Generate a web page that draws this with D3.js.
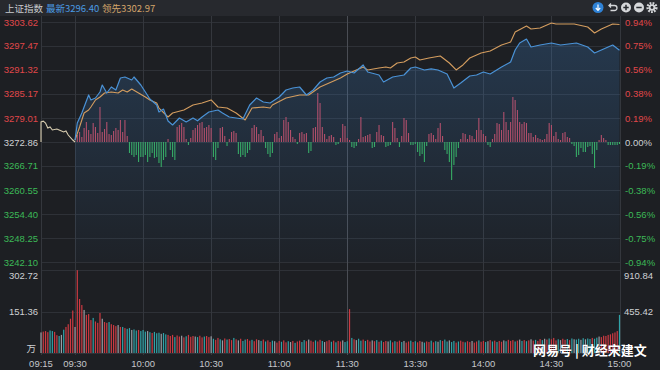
<!DOCTYPE html>
<html>
<head>
<meta charset="utf-8">
<script src="https://cdn.jsdelivr.net/npm/d3@7"></script>
<style>
body { margin: 0; background: #1d1f23; }
svg { display: block; font-family: "Liberation Sans", Arial, sans-serif; }
</style>
</head>
<body>
<svg id="chart" width="660" height="370"></svg>
<script>
// ---- data ----
const prevClose = 3272.86
const priceTicks = [3303.62, 3297.47, 3291.32, 3285.17, 3279.01, 3272.86, 3266.71, 3260.55, 3254.40, 3248.25, 3242.10]
const pctTicks = ['0.94%', '0.75%', '0.56%', '0.38%', '0.19%', '0.00%', '-0.19%', '-0.38%', '-0.56%', '-0.75%', '-0.94%']
const timeTicks = ['09:15', '09:30', '10:00', '10:30', '11:00', '11:30', '13:30', '14:00', '14:30', '15:00']
const volTicksLeft = ['302.72', '151.36']
const volTicksRight = ['910.84', '455.42']
const volMax = 302.72

// 集合竞价 09:15-09:30
const auctionSeries = [['09:15', 3272.86], ['09:15', 3277.99], ['09:16', 3278.2], ['09:17', 3277.73], ['09:18', 3276.45],
  ['09:19', 3276.7], ['09:20', 3275.94], ['09:22', 3276.2], ['09:23', 3275.94], ['09:25', 3275.42], ['09:26', 3275.7],
  ['09:27', 3274.65], ['09:29', 3273.37], ['09:30', 3272.86]]

// 最新 (blue)
const latestSeries = [['09:30', 3273.37], ['09:31', 3277.73], ['09:33', 3280.29], ['09:34', 3281.83], ['09:36', 3284.91],
  ['09:37', 3283.63], ['09:39', 3284.14], ['09:41', 3285.68], ['09:42', 3287.47], ['09:44', 3285.42], ['09:46', 3286.96],
  ['09:48', 3286.19], ['09:50', 3289.26], ['09:52', 3289.52], ['09:55', 3288.75], ['09:56', 3289.52], ['09:59', 3287.47],
  ['10:01', 3285.68], ['10:03', 3283.88], ['10:06', 3282.34], ['10:07', 3280.55], ['10:09', 3281.3], ['10:11', 3278.24],
  ['10:13', 3277.22], ['10:16', 3279.01], ['10:19', 3277.99], ['10:22', 3279.01], ['10:24', 3278.3], ['10:26', 3279.27],
  ['10:29', 3280.55], ['10:33', 3281.06], ['10:35', 3280.29], ['10:38', 3279.27], ['10:41', 3279.01], ['10:44', 3278.76],
  ['10:47', 3282.34], ['10:50', 3284.14], ['10:53', 3283.11], ['10:56', 3282.86], ['11:00', 3284.39], ['11:03', 3286.19],
  ['11:06', 3286.70], ['11:09', 3286.96], ['11:12', 3284.91], ['11:15', 3286.19], ['11:18', 3288.24], ['11:21', 3289.26],
  ['11:24', 3289.52], ['11:27', 3290.55], ['11:30', 3291.06], ['13:03', 3290.55], ['13:07', 3292.60], ['13:09', 3290.80],
  ['13:14', 3290.03], ['13:16', 3288.24], ['13:20', 3289.52], ['13:25', 3290.03], ['13:28', 3291.83], ['13:30', 3292.08],
  ['13:34', 3291.32], ['13:37', 3291.6], ['13:40', 3291.32], ['13:44', 3290.29], ['13:47', 3286.70], ['13:50', 3287.98],
  ['13:54', 3289.78], ['13:57', 3290.03], ['14:00', 3290.80], ['14:03', 3290.29], ['14:08', 3292.08], ['14:12', 3293.36],
  ['14:14', 3296.44], ['14:16', 3298.23], ['14:19', 3299.26], ['14:21', 3297.21], ['14:25', 3297.72], ['14:30', 3298.23],
  ['14:34', 3297.72], ['14:41', 3298.23], ['14:46', 3297.21], ['14:49', 3295.67], ['14:52', 3296.44], ['14:57', 3297.72],
  ['15:00', 3296.40]]

// 领先 (orange)
const leadSeries = [['09:30', 3273.37], ['09:32', 3276.70], ['09:34', 3280.29], ['09:36', 3281.06], ['09:37', 3281.83],
  ['09:39', 3283.63], ['09:41', 3284.39], ['09:43', 3285.42], ['09:46', 3285.68], ['09:49', 3285.42], ['09:51', 3286.19],
  ['09:53', 3285.68], ['09:55', 3286.45], ['09:58', 3285.42], ['10:01', 3284.39], ['10:03', 3283.63], ['10:06', 3282.86],
  ['10:07', 3281.57], ['10:11', 3279.27], ['10:13', 3280.29], ['10:18', 3281.06], ['10:22', 3282.34], ['10:26', 3282.86],
  ['10:30', 3283.63], ['10:33', 3281.83], ['10:37', 3281.57], ['10:41', 3280.29], ['10:45', 3278.50], ['10:48', 3281.57],
  ['10:53', 3281.83], ['10:56', 3281.57], ['10:57', 3282.34], ['11:03', 3284.14], ['11:09', 3284.91], ['11:13', 3284.91],
  ['11:18', 3286.96], ['11:22', 3287.98], ['11:27', 3289.26], ['11:30', 3290.29], ['13:02', 3290.80], ['13:07', 3292.08],
  ['13:09', 3291.32], ['13:14', 3291.83], ['13:17', 3292.08], ['13:19', 3291.83], ['13:22', 3293.11], ['13:25', 3293.36],
  ['13:28', 3294.39], ['13:30', 3294.65], ['13:32', 3293.88], ['13:36', 3294.39], ['13:41', 3294.90], ['13:45', 3293.11],
  ['13:48', 3291.32], ['13:51', 3292.60], ['13:54', 3294.39], ['13:59', 3295.67], ['14:03', 3296.18], ['14:08', 3297.72],
  ['14:12', 3298.49], ['14:14', 3301.05], ['14:19', 3302.59], ['14:21', 3301.82], ['14:25', 3302.08], ['14:30', 3303.36],
  ['14:32', 3303.11], ['14:40', 3303.11], ['14:46', 3302.33], ['14:49', 3300.80], ['14:52', 3301.82], ['14:57', 3303.11],
  ['15:00', 3302.97]]

// red/green strength bars, one per minute 09:31 .. 15:00
const strength = [
  7, 10, 5, 14, 20, 12, 8, 19, 15, 9,
  35, 10, 13, 20, 8, 7, 11, 14, 12, 22,
  10, 22, 6, -11, -13, -15, -13, -20, -15, -15,
  -13, -20, -15, -11, -16, -15, -21, -25, -18, -15,
  3, -8, -15, -18, 15, 17, 19, 15, 3, -3,
  4, 12, 14, 17, 19, 20, 14, 15, 17, 14,
  -15, -18, -6, 14, 15, 6, -4, 3, 10, 11,
  9, -12, -15, -13, -15, -11, -8, 14, 17, 15,
  8, 12, 6, -6, -12, -15, -11, 8, 10, 4,
  6, 22, 25, 20, 12, 5, 3, -2, 9, 10,
  8, 9, -11, -9, 14, 15, 49, 39, 15, 8,
  3, 6, 7, 5, -3, -2, 4, 18, 16, 4,
  2, -5, -6, -4, 3, 25, 5, 6, 7, 8,
  -6, -5, 10, 17, 7, 6, -5, -4, -3, 20,
  14, 4, -5, 6, 24, 22, 9, -3, -3, -2,
  -10, -14, -12, -20, -4, 8, 9, 7, 3, 14,
  19, 6, -8, -12, -20, -38, -23, -15, -6, 3,
  9, 8, 3, 7, 6, 3, 12, 24, 12, 8,
  6, -3, -5, 3, 8, 19, 18, 12, 30, 20,
  12, 20, 45, 42, 32, 20, 18, 20, 19, 9,
  9, 5, 7, 4, 3, 2, 3, 8, 19, 17,
  6, 10, 3, 2, 9, 10, 5, 4, -2, -4,
  -15, -13, -6, -10, -10, -5, -4, -12, -26, -8,
  2, 7, 4, 2, -3, -3, -3, -3, -3, -2]

// volume (万), one per minute 09:15 .. 15:00
const volume = [
  75, 78, 80, 76, 82, 80, 77, 65, 62, 66, 85, 95, 105, 125, 155,
  95, 302,
  197, 175, 157, 139, 142, 120, 128, 115, 110, 146, 125, 113, 110, 113, 105, 102, 98, 102, 95, 95,
  91, 88, 91, 84, 86, 82, 84, 80, 84, 78, 80, 76, 73, 77, 72, 74, 70, 73, 68, 66,
  62, 66, 58, 64, 60, 63, 57, 61, 66, 59, 62, 60, 58, 63, 57, 60, 62, 58, 61,
  52, 48, 55, 50, 46, 53, 49, 51, 47, 55, 50, 46, 52, 44, 49, 51, 45, 48, 43, 50,
  47, 44, 49, 42, 46, 40, 45, 43, 38, 44, 41, 46, 39, 43, 40, 44, 37, 42, 45, 40,
  47, 43, 49, 45, 41, 46, 42, 48, 44, 40, 43, 47, 41, 45, 39, 44, 42, 46, 40, 43,
  160,
  55, 50, 47, 52, 45, 49, 44, 48, 42, 46, 43, 47, 41, 45, 40, 44, 42, 46, 39, 43,
  41, 45, 40, 44, 38, 42, 45, 40, 43, 39, 44, 41, 38, 42, 40, 45, 39, 43, 41, 47,
  44, 49, 42, 46, 40, 44, 38, 42, 45, 41, 39, 43, 40, 44, 38, 42, 46, 41, 44, 40,
  43, 47, 42, 45, 40, 44, 41, 46, 43, 48, 44, 47, 42, 45, 49, 44, 47, 43, 46, 50,
  45, 48, 44, 51, 47, 52, 49, 53, 50, 55,
  46, 50, 47, 52, 48, 51, 47, 53, 50, 49, 52, 48, 54, 50, 53, 51, 55, 52,
  56, 60, 58, 63, 62, 66, 68, 72, 75, 80,
  139]

// minute direction for volume colour: r up, g down, n flat
const volumeDir =
  'nrrrggrrgngrrrr' + 'nr' +
  'rrnrrrgrrrnrrgrrrnrgr' + 'ggnggrgggngrgggnggr' +
  'rrgrrnrgrrrngrrgrrn' +
  'grrgnrgrrgrnrggrrgrrngrgrrgnrrgrrgnrgrrggrnrrgrrgnrrgrgrrng' +
  'g' +
  'rgrnggrgrrnrgrgrrngrgrrgnrrgrgrrngrrgrgngrggnggrgrrgrrnrrgrrgnrgrgrrngrrrgrngrgrnrgrrgnrgrrrgnrrgrgnggngnggrggnrrrrrrrrg'

// ---- drawing ----
const svg = d3.select('#chart')
const W = 660, H = 370
const left = 41, right = 619.5
const mainTop = 22, mainBottom = 262
const volTop = 270, volBottom = 353

function minuteIndex(hm) {
  const [h, m] = hm.split(':').map(Number)
  const mins = h * 60 + m
  return mins <= 690 ? mins - 555 : mins - 780 + 135
}

const x = d3.scaleLinear().domain([0, 255]).range([left, right])
const y = d3.scaleLinear().domain([priceTicks[priceTicks.length - 1], priceTicks[0]]).range([mainBottom, mainTop])
const yStrength = d3.scaleLinear().domain([-120, 120]).range([mainBottom, mainTop])
const yVol = d3.scaleLinear().domain([0, volMax]).range([volBottom, volTop])

svg.append('rect').attr('width', W).attr('height', H).attr('fill', '#1d1f23')
svg.append('rect').attr('width', W).attr('height', 16).attr('fill', '#27292e')

// gradient for blue area
const defs = svg.append('defs')
const grad = defs.append('linearGradient').attr('id', 'blueFill').attr('x1', 0).attr('y1', 0).attr('x2', 0).attr('y2', 1)
grad.append('stop').attr('offset', '0%').attr('stop-color', '#3d7fc4').attr('stop-opacity', 0.26)
grad.append('stop').attr('offset', '100%').attr('stop-color', '#3d7fc4').attr('stop-opacity', 0.03)

// horizontal grid
svg.append('g').selectAll('line').data(priceTicks).enter().append('line')
  .attr('x1', left).attr('x2', right + 1)
  .attr('y1', d => Math.round(y(d)) + 0.5).attr('y2', d => Math.round(y(d)) + 0.5)
  .attr('stroke', '#2e3137').attr('stroke-width', 1)

svg.append('g').selectAll('line').data([0, volMax / 2, volMax]).enter().append('line')
  .attr('x1', left).attr('x2', right + 1)
  .attr('y1', d => Math.round(yVol(d)) + 0.5).attr('y2', d => Math.round(yVol(d)) + 0.5)
  .attr('stroke', '#2e3137').attr('stroke-width', 1)

// vertical grid
svg.append('g').selectAll('line').data(timeTicks).enter().append('line')
  .attr('x1', d => Math.round(x(minuteIndex(d))) + 0.5).attr('x2', d => Math.round(x(minuteIndex(d))) + 0.5)
  .attr('y1', 16).attr('y2', 355)
  .attr('stroke', d => d === '11:30' ? '#4a4d54' : '#34373d').attr('stroke-width', 1)

// strength bars
svg.append('g').selectAll('line').data(strength).enter().append('line')
  .attr('x1', (d, i) => x(16 + i)).attr('x2', (d, i) => x(16 + i))
  .attr('y1', yStrength(0)).attr('y2', d => yStrength(d))
  .attr('stroke', d => d >= 0 ? '#c9465a' : '#36b257').attr('stroke-width', 1.1)

// blue area + lines
const lineGen = d3.line().x(d => x(minuteIndex(d[0]))).y(d => y(d[1]))
const areaGen = d3.area().x(d => x(minuteIndex(d[0]))).y0(mainBottom).y1(d => y(d[1]))

svg.append('path').datum(latestSeries).attr('d', areaGen).attr('fill', 'url(#blueFill)')
svg.append('path').datum(auctionSeries).attr('d', lineGen)
  .attr('fill', 'none').attr('stroke', '#d8cdb0').attr('stroke-width', 1.1)
svg.append('path').datum(leadSeries).attr('d', lineGen)
  .attr('fill', 'none').attr('stroke', '#d49d5f').attr('stroke-width', 1.1).attr('stroke-linejoin', 'round')
svg.append('path').datum(latestSeries).attr('d', lineGen)
  .attr('fill', 'none').attr('stroke', '#4a92d6').attr('stroke-width', 1.2).attr('stroke-linejoin', 'round')

// volume bars
const volColor = { r: '#cc3a42', g: '#30a3a8', n: '#9a9ea5' }
svg.append('g').selectAll('rect').data(volume).enter().append('rect')
  .attr('x', (d, i) => x(i) - 0.6).attr('width', 1.2)
  .attr('y', d => yVol(Math.min(d, volMax))).attr('height', d => volBottom - yVol(Math.min(d, volMax)))
  .attr('fill', (d, i) => volColor[volumeDir[i] || 'n'])

// price axis labels
const priceColor = d => d > prevClose ? '#e0474a' : (d < prevClose ? '#3cb957' : '#cfd1d4')
svg.append('g').selectAll('text').data(priceTicks).enter().append('text')
  .attr('x', 38).attr('y', d => y(d) + 3.5).attr('text-anchor', 'end')
  .attr('font-size', 9.5).attr('fill', priceColor)
  .text(d => d.toFixed(2))

svg.append('g').selectAll('text').data(pctTicks).enter().append('text')
  .attr('x', 625).attr('y', (d, i) => y(priceTicks[i]) + 3.5)
  .attr('font-size', 9.5).attr('fill', (d, i) => priceColor(priceTicks[i]))
  .text(d => d)

// volume labels
svg.append('text').attr('x', 38).attr('y', volTop + 9).attr('text-anchor', 'end')
  .attr('font-size', 9.5).attr('fill', '#cfd1d4').text(volTicksLeft[0])
svg.append('text').attr('x', 38).attr('y', yVol(volMax / 2) + 3.5).attr('text-anchor', 'end')
  .attr('font-size', 9.5).attr('fill', '#cfd1d4').text(volTicksLeft[1])
svg.append('text').attr('x', 624).attr('y', volTop + 9)
  .attr('font-size', 9.5).attr('fill', '#cfd1d4').text(volTicksRight[0])
svg.append('text').attr('x', 624).attr('y', yVol(volMax / 2) + 3.5)
  .attr('font-size', 9.5).attr('fill', '#cfd1d4').text(volTicksRight[1])
svg.append('text').attr('x', 36).attr('y', 352).attr('text-anchor', 'end')
  .attr('font-family', 'Noto Sans CJK SC').attr('font-size', 9.5).attr('fill', '#cfd1d4').text('万')

// time labels
svg.append('g').selectAll('text').data(timeTicks).enter().append('text')
  .attr('x', d => x(minuteIndex(d))).attr('y', 367).attr('text-anchor', 'middle')
  .attr('font-size', 9.5).attr('fill', '#c4c6ca')
  .text(d => d)

// header
const header = svg.append('text').attr('x', 5).attr('y', 11.5).attr('font-size', 9.5)
  .attr('font-family', '"Noto Sans CJK SC", "Liberation Sans", sans-serif')
header.append('tspan').attr('fill', '#c9cbcf').text('上证指数')
header.append('tspan').attr('x', 46).attr('fill', '#4a9be3').text('最新' + latestSeries[latestSeries.length - 1][1].toFixed(2))
header.append('tspan').attr('x', 102).attr('fill', '#d4a46a').text('领先' + leadSeries[leadSeries.length - 1][1].toFixed(2))

// header icons
const icons = svg.append('g')
icons.append('circle').attr('cx', 598).attr('cy', 7.5).attr('r', 5.5).attr('fill', '#2f82d6')
icons.append('path').attr('d', 'M598,4.5V10M595.8,8L598,10.3L600.2,8').attr('stroke', '#fff').attr('stroke-width', 1.2).attr('fill', 'none')
icons.append('path').attr('d', 'M609,5.5H614.5A2.5,2.5 0 0 1 614.5,10.5H610.5M611,3.5L609,5.5L611,7.5')
  .attr('stroke', '#d5d7da').attr('stroke-width', 1.3).attr('fill', 'none')
icons.append('circle').attr('cx', 626).attr('cy', 7.5).attr('r', 5).attr('fill', '#d5d7da')
icons.append('path').attr('d', 'M623.3,7.5H628.7M626,4.8V10.2').attr('stroke', '#27292e').attr('stroke-width', 1.5)
icons.append('circle').attr('cx', 639).attr('cy', 7.5).attr('r', 5).attr('fill', '#d5d7da')
icons.append('path').attr('d', 'M636.3,7.5H641.7').attr('stroke', '#27292e').attr('stroke-width', 1.5)
icons.append('circle').attr('cx', 652).attr('cy', 7.5).attr('r', 4.3).attr('fill', 'none')
  .attr('stroke', '#d5d7da').attr('stroke-width', 2.6).attr('stroke-dasharray', '1.7 1.2')
icons.append('circle').attr('cx', 652).attr('cy', 7.5).attr('r', 3.3).attr('fill', '#d5d7da')
icons.append('circle').attr('cx', 652).attr('cy', 7.5).attr('r', 1.4).attr('fill', '#27292e')

// watermark
svg.append('text').attr('x', 533).attr('y', 355)
  .attr('font-family', '"Noto Sans CJK SC", sans-serif').attr('font-size', 13).attr('font-weight', 'bold')
  .attr('fill', '#ffffff').attr('stroke', 'rgba(0,0,0,0.35)').attr('stroke-width', 0.6).attr('paint-order', 'stroke')
  .text('网易号 | 财经宋建文')
</script>
</body>
</html>
